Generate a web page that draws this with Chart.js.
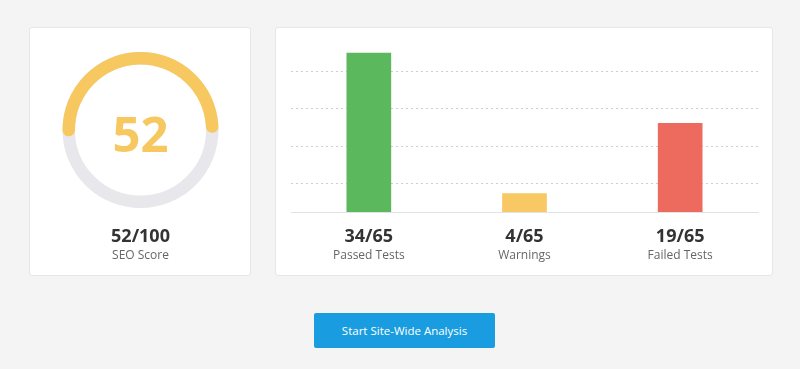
<!DOCTYPE html>
<html>
<head>
<meta charset="utf-8">
<script src="https://cdn.jsdelivr.net/npm/chart.js@4.4.0/dist/chart.umd.min.js"></script>
<style>
  html, body { margin: 0; padding: 0; background: #f4f4f4; width: 800px; height: 369px; overflow: hidden; font-family: "Open Sans", sans-serif; }
  .card { position: absolute; background: #fff; border: 1px solid #e6e6e6; border-radius: 3px; box-sizing: border-box; }
  canvas { position: absolute; }
  .btn { position: absolute; left: 314px; top: 313px; width: 181px; height: 35px; background: #1a9de0; color: #fff; border-radius: 2px;
         font-size: 11.5px; line-height: 35px; text-align: center; font-family: "Open Sans", sans-serif; }
</style>
</head>
<body>
<div class="card" style="left:29px;top:27px;width:222px;height:249px;"></div>
<div class="card" style="left:275px;top:27px;width:498px;height:249px;"></div>
<canvas id="gauge" width="222" height="249" style="left:29px;top:27px;"></canvas>
<canvas id="bars" width="498" height="249" style="left:275px;top:27px;"></canvas>
<div class="btn">Start Site-Wide Analysis</div>
<script>
// ---- data ----
const seoScore = 52;
const seoMax = 100;
const seoLabel = 'SEO Score';
const categories = ['Passed Tests', 'Warnings', 'Failed Tests'];
const testCounts = [34, 4, 19];
const totalTests = 65;
const gridValues = [6, 14, 22, 30];
const yMax = 38;

const barColors = ['#5cb85c', '#f7c864', '#ec6a5e'];
const gaugeColor = '#f6c85f';
const trackColor = '#e8e8ec';

Chart.defaults.font.family = '"Open Sans", sans-serif';

// ---- gauge ----
const trackPlugin = {
  id: 'track',
  beforeDatasetsDraw(chart) {
    const arc = chart.getDatasetMeta(0).data[0];
    if (!arc) return;
    const { x, y, innerRadius, outerRadius } = arc.getProps(['x', 'y', 'innerRadius', 'outerRadius'], true);
    const ctx = chart.ctx;
    ctx.save();
    ctx.beginPath();
    ctx.strokeStyle = trackColor;
    ctx.lineWidth = outerRadius - innerRadius;
    ctx.arc(x, y, (outerRadius + innerRadius) / 2, 0, Math.PI * 2);
    ctx.stroke();
    ctx.restore();
  },
  afterDraw(chart) {
    const arc = chart.getDatasetMeta(0).data[0];
    const ctx = chart.ctx;
    ctx.save();
    ctx.textAlign = 'center';
    ctx.fillStyle = gaugeColor;
    ctx.font = 'bold 49px "Open Sans", sans-serif';
    ctx.textBaseline = 'alphabetic';
    ctx.fillText(String(seoScore), arc.x, arc.y + 22);
    ctx.fillStyle = '#333';
    ctx.font = 'bold 18px "Open Sans", sans-serif';
    ctx.textBaseline = 'middle';
    ctx.fillText(seoScore + '/' + seoMax, arc.x, 210);
    ctx.fillStyle = '#666';
    ctx.font = '12px "Open Sans", sans-serif';
    ctx.fillText(seoLabel, arc.x, 229);
    ctx.restore();
  }
};

new Chart(document.getElementById('gauge'), {
  type: 'doughnut',
  data: {
    labels: ['Score', 'Remaining'],
    datasets: [{
      data: [seoScore, seoMax - seoScore],
      backgroundColor: [gaugeColor, 'rgba(0,0,0,0)'],
      borderWidth: 0,
      borderRadius: (c) => c.dataIndex === 0 ? 6 : 0
    }]
  },
  options: {
    responsive: false,
    animation: false,
    rotation: -95,
    circumference: 360,
    cutout: '84%',
    layout: { padding: { left: 33.5, right: 32.5, top: 25, bottom: 68 } },
    plugins: { legend: { display: false }, tooltip: { enabled: false } }
  },
  plugins: [trackPlugin]
});

// ---- bars ----
const labelPlugin = {
  id: 'barLabels',
  afterDraw(chart) {
    const ctx = chart.ctx;
    const xs = chart.scales.x;
    const bottom = chart.chartArea.bottom;
    ctx.save();
    ctx.textAlign = 'center';
    ctx.textBaseline = 'middle';
    categories.forEach((cat, i) => {
      const x = xs.getPixelForValue(i);
      ctx.fillStyle = '#333';
      ctx.font = 'bold 18px "Open Sans", sans-serif';
      ctx.fillText(testCounts[i] + '/' + totalTests, x, bottom + 25);
      ctx.fillStyle = '#666';
      ctx.font = '12px "Open Sans", sans-serif';
      ctx.fillText(cat, x, bottom + 44);
    });
    ctx.restore();
  }
};

new Chart(document.getElementById('bars'), {
  type: 'bar',
  data: {
    labels: categories,
    datasets: [{
      data: testCounts,
      backgroundColor: barColors,
      borderWidth: 0,
      barPercentage: 1,
      categoryPercentage: 0.287
    }]
  },
  options: {
    responsive: false,
    animation: false,
    layout: { padding: { left: 16, right: 15, top: 7, bottom: 64 } },
    scales: {
      x: {
        grid: { display: false, drawTicks: false },
        ticks: { display: false },
        border: { display: true, color: '#e2e2e2', width: 1 }
      },
      y: {
        min: 0,
        max: yMax,
        afterBuildTicks(scale) { scale.ticks = gridValues.map(v => ({ value: v })); },
        grid: { color: '#cfcfcf', drawTicks: false, lineWidth: 1 },
        border: { display: false, dash: [2, 3] },
        ticks: { display: false }
      }
    },
    plugins: { legend: { display: false }, tooltip: { enabled: false } }
  },
  plugins: [labelPlugin]
});
</script>
</body>
</html>
